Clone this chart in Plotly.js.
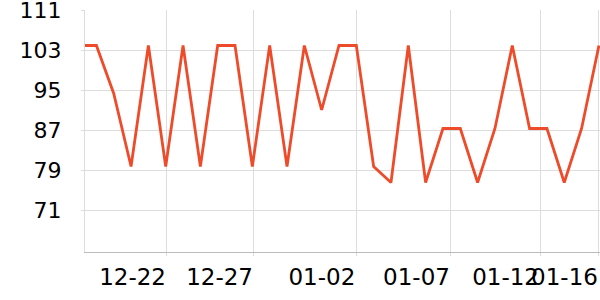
<!DOCTYPE html>
<html>
<head>
<meta charset="utf-8">
<script src="https://cdn.plot.ly/plotly-3.0.1.min.js"></script>
<style>
html,body{margin:0;padding:0;background:#fff;}
#chart{width:600px;height:300px;}
</style>
</head>
<body>
<div id="chart"></div>
<script>
var dates = ['2023-12-17','2023-12-18','2023-12-19','2023-12-20','2023-12-21','2023-12-22','2023-12-23','2023-12-24','2023-12-25','2023-12-26','2023-12-27','2023-12-28','2023-12-29','2023-12-30','2023-12-31','2024-01-01','2024-01-02','2024-01-03','2024-01-04','2024-01-05','2024-01-06','2024-01-07','2024-01-08','2024-01-09','2024-01-10','2024-01-11','2024-01-12','2024-01-13','2024-01-14','2024-01-15','2024-01-16'];
var values = [104, 104, 94.4, 79.8, 104, 79.8, 104, 79.8, 104, 104, 79.8, 104, 79.8, 104, 91.1, 104, 104, 79.8, 76.6, 104, 76.6, 87.4, 87.4, 76.6, 87.4, 104, 87.4, 87.4, 76.6, 87.4, 104];
var xTickVals = ['2023-12-22 01:46','2023-12-27 02:15','2024-01-02 00:00','2024-01-07 11:02','2024-01-12 14:24','2024-01-16 00:00'];
var xTickText = ['12-22','12-27','01-02','01-07','01-12','01-16'];
var yTickVals = [71, 79, 87, 95, 103, 111];
var yTickText = ['71','79','87','95','103','111'];

var trace = {
  x: dates,
  y: values,
  type: 'scatter',
  mode: 'lines',
  line: {color: '#ee4b2b', width: 2.8},
  hoverinfo: 'skip'
};

var layout = {
  width: 600,
  height: 300,
  margin: {l: 85, r: 0, t: 10, b: 48},
  paper_bgcolor: '#ffffff',
  plot_bgcolor: '#ffffff',
  showlegend: false,
  font: {family: 'DejaVu Sans', color: '#000000'},
  xaxis: {
    type: 'date',
    range: ['2023-12-17 08:13', '2024-01-16 01:30'],
    tickmode: 'array',
    tickvals: xTickVals,
    ticktext: xTickText,
    tickangle: 0,
    ticklabelposition: 'outside left',
    ticklabeloverflow: 'allow',
    tickfont: {size: 23, family: 'DejaVu Sans', color: '#000'},
    showgrid: true,
    gridcolor: '#dddddd',
    gridwidth: 1,
    showline: true,
    linecolor: '#bbbbbb',
    linewidth: 1,
    ticks: 'outside',
    ticklen: 3,
    tickcolor: '#dddddd',
    ticklabelstandoff: 4,
    zeroline: false,
    fixedrange: true
  },
  yaxis: {
    range: [62.7, 111.1],
    tickmode: 'array',
    tickvals: yTickVals,
    ticktext: yTickText,
    tickangle: 0,
    ticklabeloverflow: 'allow',
    tickfont: {size: 22, family: 'DejaVu Sans', color: '#000'},
    showgrid: true,
    gridcolor: '#dddddd',
    gridwidth: 1,
    showline: true,
    linecolor: '#dddddd',
    linewidth: 1,
    ticks: 'outside',
    ticklen: 3,
    tickcolor: '#dddddd',
    ticklabelstandoff: 15,
    zeroline: false,
    fixedrange: true
  }
};

Plotly.newPlot('chart', [trace], layout, {displayModeBar: false, staticPlot: true});
</script>
</body>
</html>
